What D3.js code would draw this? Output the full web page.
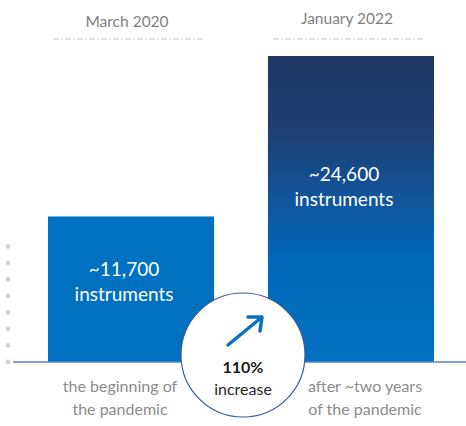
<!DOCTYPE html>
<html>
<head>
<meta charset="utf-8">
<script src="https://cdn.jsdelivr.net/npm/d3@7"></script>
<style>
  body { margin: 0; background: #fff; }
  svg { display: block; font-family: Lato, "Open Sans", sans-serif; }
</style>
</head>
<body>
<svg id="chart" width="466" height="426"></svg>
<script>
// chart data
const periods = ["March 2020", "January 2022"];
const instruments = [11700, 24600];
const valueLabels = ["~11,700", "~24,600"];
const footLabels = [["the beginning of", "the pandemic"], ["after ~two years", "of the pandemic"]];
const increaseLabel = ["110%", "increase"];

const svg = d3.select("#chart");
const baseY = 362;

const x = d3.scaleBand()
  .domain(periods)
  .range([48, 434])
  .paddingInner(0.245)
  .paddingOuter(0);

const y = d3.scaleLinear()
  .domain([0, 24600])
  .range([baseY, 56]);

// gradient for the second bar
const defs = svg.append("defs");
const grad = defs.append("linearGradient")
  .attr("id", "barGrad")
  .attr("x1", 0).attr("y1", 0).attr("x2", 0).attr("y2", 1);
grad.append("stop").attr("offset", "0%").attr("stop-color", "#213763");
grad.append("stop").attr("offset", "22%").attr("stop-color", "#1f3d6f");
grad.append("stop").attr("offset", "45%").attr("stop-color", "#135398");
grad.append("stop").attr("offset", "66%").attr("stop-color", "#0068b9");
grad.append("stop").attr("offset", "100%").attr("stop-color", "#0070c0");

// dotted marks on the left
svg.append("g")
  .selectAll("circle")
  .data(d3.range(8))
  .join("circle")
  .attr("cx", 8)
  .attr("cy", (d) => baseY - d * 16.5)
  .attr("r", 2.4)
  .attr("fill", "#d3d3d3");

// bars
svg.append("g")
  .selectAll("rect")
  .data(periods)
  .join("rect")
  .attr("x", (d) => x(d))
  .attr("y", (d, i) => y(instruments[i]))
  .attr("width", x.bandwidth())
  .attr("height", (d, i) => baseY - y(instruments[i]))
  .attr("fill", (d, i) => (i === 0 ? "#0070c0" : "url(#barGrad)"));

// baseline
svg.append("line")
  .attr("x1", 13).attr("x2", 466)
  .attr("y1", baseY).attr("y2", baseY)
  .attr("stroke", "#5b7fc7")
  .attr("stroke-width", 1.5);

// period labels and dashed rules
const header = svg.append("g");
header.selectAll("text")
  .data(periods)
  .join("text")
  .attr("x", (d) => x(d) + x.bandwidth() / 2 - 4)
  .attr("y", (d, i) => (i === 0 ? 27 : 24))
  .attr("text-anchor", "middle")
  .attr("fill", "#7f7f7f")
  .attr("font-size", 15.5)
  .text((d) => d);

header.selectAll("line")
  .data(periods)
  .join("line")
  .attr("x1", (d) => x(d) + 5)
  .attr("x2", (d) => x(d) + x.bandwidth() - 10)
  .attr("y1", 39).attr("y2", 39)
  .attr("stroke", "#c8c8c8")
  .attr("stroke-width", 1.2)
  .attr("stroke-dasharray", "6,2,2,2");

// value labels inside bars
periods.forEach((p, i) => {
  const cx = x(p) + x.bandwidth() / 2 - 7;
  const ty = y(instruments[i] * 0.59);
  const t = svg.append("text")
    .attr("text-anchor", "middle")
    .attr("fill", "#ffffff")
    .attr("font-size", 19);
  t.append("tspan").attr("x", cx).attr("y", ty).text(valueLabels[i]);
  t.append("tspan").attr("x", cx).attr("y", ty + 25).text("instruments");
});

// labels under the bars
const footX = [120, 365];
periods.forEach((p, i) => {
  const t = svg.append("text")
    .attr("text-anchor", "middle")
    .attr("fill", "#8c8c8c")
    .attr("font-size", 16);
  footLabels[i].forEach((line, j) => {
    t.append("tspan").attr("x", footX[i]).attr("y", 392 + j * 23).text(line);
  });
});

// increase badge
const badge = svg.append("g").attr("transform", "translate(243,355)");
badge.append("circle")
  .attr("r", 62)
  .attr("fill", "#ffffff")
  .attr("stroke", "#3a5a9a")
  .attr("stroke-width", 1.2);

badge.append("path")
  .attr("d", "M-15,-10 L19,-38 M5,-38 L19,-38 L17,-24")
  .attr("fill", "none")
  .attr("stroke", "#0a70c2")
  .attr("stroke-width", 3.5)
  .attr("stroke-linecap", "round")
  .attr("stroke-linejoin", "round");

badge.append("text")
  .attr("y", 18)
  .attr("text-anchor", "middle")
  .attr("font-size", 16)
  .attr("font-weight", "bold")
  .attr("fill", "#1a1a1a")
  .text(increaseLabel[0]);

badge.append("text")
  .attr("y", 40)
  .attr("text-anchor", "middle")
  .attr("font-size", 16)
  .attr("fill", "#262626")
  .text(increaseLabel[1]);
</script>
</body>
</html>
